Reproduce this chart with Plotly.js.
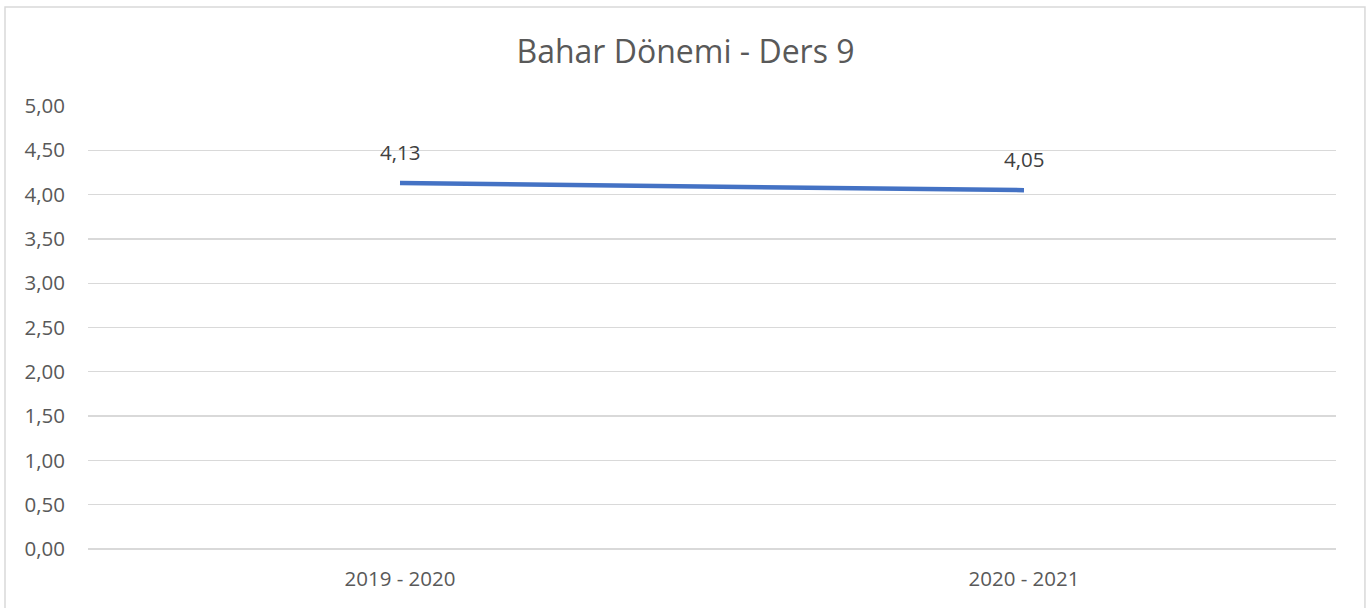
<!DOCTYPE html>
<html><head><meta charset="utf-8">
<script src="https://cdn.plot.ly/plotly-3.0.1.min.js"></script>
<style>html,body{margin:0;padding:0;background:#fff;}#c{width:1371px;height:608px;}</style>
</head><body><div id="c"></div>
<script>
var categories = ["2019 - 2020", "2020 - 2021"];
var values = [4.13, 4.05];
var labels = ["4,13", "4,05"];

var FONT = 'Open Sans, sans-serif';
var trace = {
  x: categories, y: values, type: 'scatter', mode: 'lines',
  line: {color: '#4472C4', width: 4.5, shape: 'linear'},
  hoverinfo: 'skip'
};
var annotations = categories.map(function(c, i){
  return {x: c, y: values[i], xref: 'x', yref: 'y', text: labels[i], showarrow: false,
    yshift: 31, font: {family: FONT, size: 20.5, color: '#404040'}};
});
var layout = {
  width: 1371, height: 608,
  margin: {l: 88, r: 35, t: 106, b: 59},
  paper_bgcolor: '#fff', plot_bgcolor: '#fff',
  separators: ',.',
  showlegend: false,
  title: {text: 'Bahar Dönemi - Ders 9', x: 0.5, xanchor: 'center', y: 0.915, yanchor: 'middle',
    font: {family: FONT, size: 32, color: '#595959'}},
  xaxis: {type: 'category', range: [-0.5, 1.5], showgrid: false, showline: false, zeroline: false,
    ticks: '', tickfont: {family: FONT, size: 20.5, color: '#595959'}, ticklabelstandoff: 15},
  yaxis: {range: [0, 5], dtick: 0.5, tick0: 0, tickformat: '.2f', showgrid: true, gridcolor: '#d9d9d9', gridwidth: 1.3,
    zeroline: true, zerolinecolor: '#d9d9d9', zerolinewidth: 1.3, showline: false, ticks: '',
    tickfont: {family: FONT, size: 20.5, color: '#595959'}, ticklabelstandoff: 22},
  annotations: annotations,
  shapes: [{type: 'rect', xref: 'paper', yref: 'paper', x0: -0.0665, x1: 1.0232, y0: -0.2, y1: 1.2235,
    line: {color: '#d9d9d9', width: 1.5}, fillcolor: 'rgba(0,0,0,0)', layer: 'below'}]
};
Plotly.newPlot('c', [trace], layout, {displayModeBar: false, staticPlot: true});
</script></body></html>
